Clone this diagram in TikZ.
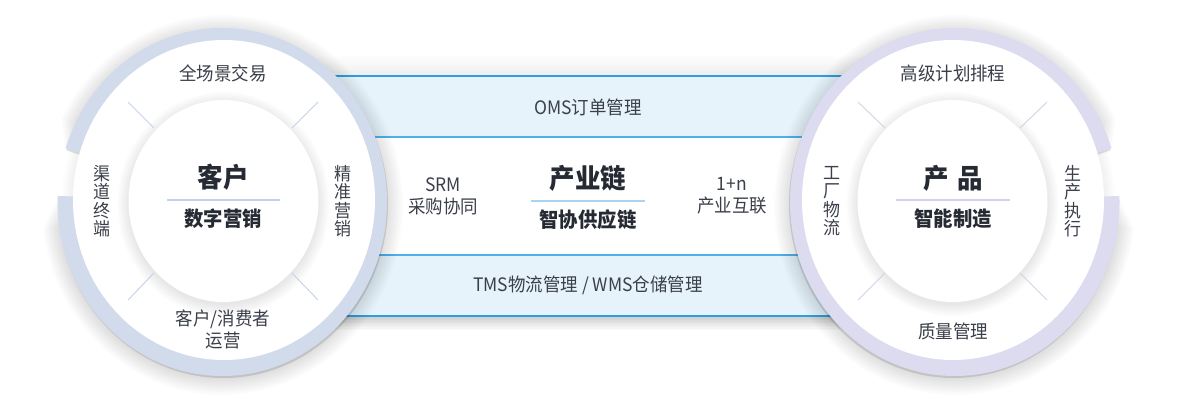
\documentclass[tikz,border=0pt]{standalone}
\usepackage{fontspec}
\setmainfont{Noto Sans CJK SC}[FakeStretch=0.944]
\definecolor{txt}{HTML}{3A3F4A}
\definecolor{ttl}{HTML}{262A33}
\definecolor{ringA}{HTML}{D2DBEC}
\definecolor{ringB}{HTML}{DCDBEF}
\definecolor{divA}{HTML}{C3D0E8}
\definecolor{divB}{HTML}{D3D1EA}
\definecolor{bandfill}{HTML}{E6F3FB}
\definecolor{bandline}{HTML}{2E9EE2}
\definecolor{bandlinetwo}{HTML}{4FB0EA}
\definecolor{subline}{HTML}{A8D4F2}
\begin{document}
\begin{tikzpicture}[x=1pt,y=1pt,
  lbl/.style={text=txt, font=\fontsize{18.5}{22}\selectfont, inner sep=0pt, align=center},
  vlbl/.style={text=txt, font=\fontsize{18}{18.5}\selectfont, inner sep=0pt, align=center},
  ttlbig/.style={text=ttl, font=\bfseries\fontsize{27}{28}\selectfont, inner sep=0pt},
  ttlsub/.style={text=ttl, font=\bfseries\fontsize{20.5}{22}\selectfont, inner sep=0pt},
  divider/.style={line width=0.9pt},
]
\useasboundingbox (0,0) rectangle (1177,408);
\fill[white] (0,0) rectangle (1177,408);

% ---------- middle band ----------
\foreach \i in {1,...,10} \fill[black,opacity=0.02] (300,{92-\i*1.4}) rectangle (880,100);
\foreach \i in {1,...,8} \fill[black,opacity=0.008] (300,332) rectangle (880,{332+\i*2.5});
\fill[bandfill] (300,271) rectangle (880,332);
\fill[white] (300,153) rectangle (880,271);
\fill[bandfill] (300,92) rectangle (880,153);
\draw[bandline, line width=2pt] (300,332) -- (880,332);
\draw[bandlinetwo, line width=1.6pt] (300,271) -- (880,271);
\draw[bandlinetwo, line width=1.6pt] (300,153) -- (880,153);
\draw[bandline, line width=2pt] (300,92) -- (880,92);

% ---------- left circle ----------
\foreach \i in {0,...,7} \fill[black,opacity=0.009] (224,206) ellipse [x radius={151+\i*1.6}, y radius={160+\i*1.6}];
\foreach \i in {0,...,10} \fill[black,opacity=0.011] (222.25,203) -- ++({178+\i*0.9}:{164.75+\i*1.6} and {174+\i*1.6}) arc[start angle={178+\i*0.9}, end angle={522-\i*0.9}, x radius={164.75+\i*1.6}, y radius={174+\i*1.6}] -- cycle;
\fill[black,opacity=0.12] (223.25,204) -- ++(178:164.75 and 174) arc[start angle=178, end angle=522, x radius=164.75, y radius=174] -- cycle;
\fill[ringA] (222.25,206) -- ++(178:164.75 and 174) arc[start angle=178, end angle=522, x radius=164.75, y radius=174] -- cycle;
\fill[white] (224,208) ellipse [x radius=151, y radius=160];
\foreach \i in {0,...,7} \fill[black,opacity=0.01] (223.5,204) ellipse [x radius={95+\i*1.6}, y radius={101+\i*1.6}];
\fill[white] (223.5,207) ellipse [x radius=95, y radius=101];
\draw[divA, divider] (128,306) -- (154,280);
\draw[divA, divider] (318,306) -- (292,280);
\draw[divA, divider] (128,108) -- (154,135);
\draw[divA, divider] (318,108) -- (292,135);
\draw[divA, line width=1.4pt] (167,208) -- (280,208);

% ---------- right circle ----------
\foreach \i in {0,...,7} \fill[black,opacity=0.009] (953,206) ellipse [x radius={151+\i*1.6}, y radius={160+\i*1.6}];
\foreach \i in {0,...,10} \fill[black,opacity=0.011] (954.75,203) -- ++({2-\i*0.9}:{164.75+\i*1.6} and {174+\i*1.6}) arc[start angle={2-\i*0.9}, end angle={-342+\i*0.9}, x radius={164.75+\i*1.6}, y radius={174+\i*1.6}] -- cycle;
\fill[black,opacity=0.12] (953.75,204) -- ++(2:164.75 and 174) arc[start angle=2, end angle=-342, x radius=164.75, y radius=174] -- cycle;
\fill[ringB] (954.75,206) -- ++(2:164.75 and 174) arc[start angle=2, end angle=-342, x radius=164.75, y radius=174] -- cycle;
\fill[white] (953,208) ellipse [x radius=151, y radius=160];
\foreach \i in {0,...,7} \fill[black,opacity=0.01] (952.5,204) ellipse [x radius={95+\i*1.6}, y radius={101+\i*1.6}];
\fill[white] (952.5,207) ellipse [x radius=95, y radius=101];
\draw[divB, divider] (858,306) -- (885,280);
\draw[divB, divider] (1047,306) -- (1020,280);
\draw[divB, divider] (858,108) -- (885,135);
\draw[divB, divider] (1047,108) -- (1020,135);
\draw[divB, line width=1.4pt] (896,208) -- (1010,208);

% middle underline
\draw[subline, line width=1.6pt] (531,207) -- (645,207);

% ---------- texts ----------
\node[lbl] (lt) at (223,335) {全场景交易};
\node[vlbl] (ll) at (102,207) {渠\\道\\终\\端};
\node[vlbl] (lr) at (343,207) {精\\准\\营\\销};
\node[lbl] (lb) at (223,79) {客户/消费者\\运营};
\node[ttlbig] (lc) at (223,231) {客户};
\node[ttlsub] (lcs) at (223,189) {数字营销};

\node[lbl] (oms) at (588,301) {OMS订单管理};
\node[lbl] (srm) at (443,212) {SRM\\采购协同};
\node[ttlbig] (mc) at (588,230) {产业链};
\node[ttlsub] (mcs) at (588,188) {智协供应链};
\node[lbl] (onen) at (732,212) {1+n\\产业互联};
\node[lbl] (tms) at (588,123) {TMS物流管理 / WMS仓储管理};

\node[lbl] (rt) at (953,335) {高级计划排程};
\node[vlbl] (rl) at (832,207) {工\\厂\\物\\流};
\node[vlbl] (rr) at (1073,207) {生\\产\\执\\行};
\node[lbl] (rb) at (953,77) {质量管理};
\node[ttlbig] (rc) at (953,230) {产\hspace{0.3em}品};
\node[ttlsub] (rcs) at (953,189) {智能制造};
\end{tikzpicture}
\end{document}
